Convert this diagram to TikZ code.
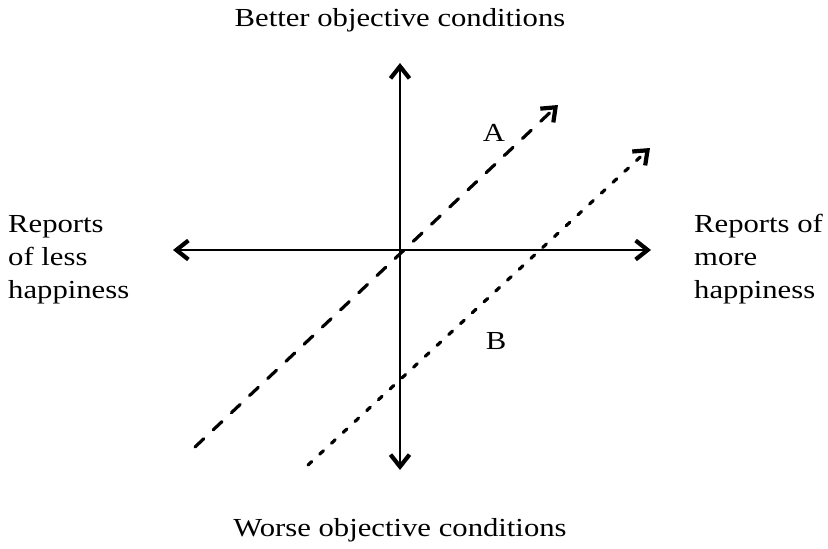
\documentclass[tikz,border=0pt]{standalone}
\usepackage{fontspec}
\setmainfont{Liberation Serif}
\newfontfamily\widefont[FakeStretch=1.18]{Liberation Serif}
\usetikzlibrary{arrows.meta}
\begin{document}
\begin{tikzpicture}[x=1pt,y=-1pt,
  barb/.tip={Straight Barb[length=12pt,width=19pt,line width=4.2pt]},
  axisline/.style={line width=2.8pt,barb-barb},
  dashline/.style={line width=3.2pt,line cap=round,-barb},
  lbl/.style={font=\widefont\fontsize{26}{33}\selectfont,inner sep=0pt}]
\useasboundingbox (0,0) rectangle (828,549);
\coordinate (L) at (173,250);
\coordinate (R) at (651,250);
\coordinate (T) at (400,63);
\coordinate (Bt) at (400,470);
\coordinate (a1) at (195,447);
\coordinate (a2) at (558,105);
\coordinate (b1) at (308,465);
\coordinate (b2) at (650,148);
\draw[axisline] (L) -- (R);
\draw[axisline] (T) -- (Bt);
\draw[dashline,dash pattern=on 12pt off 13pt] (a1) -- (a2);
\draw[dashline,dash pattern=on 5pt off 11pt] (b1) -- (b2);
\node[lbl,anchor=base] (top) at (400,26) {Better objective conditions};
\node[lbl,anchor=base] (bot) at (400,536) {Worse objective conditions};
\node[lbl,anchor=base] (A) at (494,141) {A};
\node[lbl,anchor=base] (B) at (496,349) {B};
\node[lbl,anchor=base west,align=left] (left) at (8,298) {Reports\\of less\\happiness};
\node[lbl,anchor=base west,align=left] (right) at (694,298) {Reports of\\more\\happiness};
\end{tikzpicture}
\end{document}
